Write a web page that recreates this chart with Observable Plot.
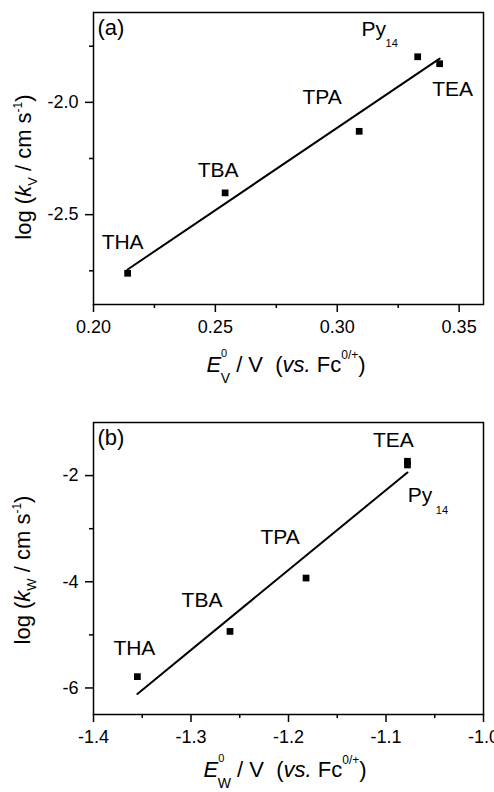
<!DOCTYPE html>
<html>
<head>
<meta charset="utf-8">
<script src="https://cdn.jsdelivr.net/npm/d3@7"></script>
<script src="https://cdn.jsdelivr.net/npm/@observablehq/plot@0.6"></script>
<style>
  html, body { margin: 0; padding: 0; background: #fff; }
  svg { display: block; }
</style>
</head>
<body>
<div id="a"></div>
<div id="b"></div>
<script>
// ---- Data (panel a) ----
const namesA = ["THA", "TBA", "TPA", "Py14", "TEA"];
const xA = [0.214, 0.254, 0.309, 0.333, 0.342];
const yA = [-2.761, -2.403, -2.129, -1.797, -1.828];
const xTicksA = [0.20, 0.25, 0.30, 0.35];
const xMinorA = [0.225, 0.275, 0.325];
const yTicksA = [-2.0, -2.5];
const yMinorA = [-1.75, -2.25, -2.75];

// ---- Data (panel b) ----
const namesB = ["THA", "TBA", "TPA", "TEA", "Py14"];
const xB = [-1.355, -1.260, -1.182, -1.078, -1.078];
const yB = [-5.787, -4.935, -3.93, -1.73, -1.80];
const xTicksB = [-1.4, -1.3, -1.2, -1.1, -1.0];
const xMinorB = [-1.35, -1.25, -1.15, -1.05];
const yTicksB = [-2, -4, -6];
const yMinorB = [-3, -5];

// ---- Label placement (style, kept separate) ----
const labelOffA = {THA: [-5, -31], TBA: [-7, -23], TPA: [-37, -34], Py14: [-44, -27], TEA: [13, 26]};
const subOffA = [-26, -13.5];
const labelOffB = {THA: [-3, -28.5], TBA: [-28, -31], TPA: [-26, -41], TEA: [-14, -21], Py14: [12.5, 30.5]};
const subOffB = [34.5, 45];

const FONT = "'Liberation Sans', Arial, Helvetica, sans-serif";

function rows(names, xs, ys) {
  return names.map((n, i) => ({name: n, x: xs[i], y: ys[i]}));
}

function labelMarks(data, offs, subOff) {
  const marks = [];
  for (const d of data) {
    const o = offs[d.name];
    marks.push(Plot.text([d], {
      x: "x", y: "y",
      text: r => r.name === "Py14" ? "Py" : r.name,
      dx: o[0], dy: o[1], fontSize: 21, fill: "black", textAnchor: "middle", lineAnchor: "middle"
    }));
    if (d.name === "Py14") {
      marks.push(Plot.text([d], {
        x: "x", y: "y", text: () => "14",
        dx: subOff[0], dy: subOff[1], fontSize: 11, fill: "black", textAnchor: "middle", lineAnchor: "middle"
      }));
    }
  }
  return marks;
}

function panel(cfg) {
  const data = rows(cfg.names, cfg.xs, cfg.ys);
  return Plot.plot({
    width: 494,
    height: cfg.height,
    marginLeft: 93, marginRight: 11, marginTop: cfg.marginTop, marginBottom: cfg.marginBottom,
    style: {fontFamily: FONT, fontSize: "18px", color: "black", background: "white", overflow: "visible"},
    x: {domain: cfg.xDomain},
    y: {domain: cfg.yDomain},
    marks: [
      Plot.frame({stroke: "black", strokeWidth: 1.5}),
      Plot.axisX(cfg.xTicks, {tickSize: 8, tickPadding: 8, strokeWidth: 1.5, tickFormat: cfg.xFmt, label: null}),
      Plot.axisX(cfg.xMinor, {tickSize: 4, strokeWidth: 1.5, fill: "none", tickFormat: () => "", label: null}),
      Plot.axisY(cfg.yTicks, {tickSize: 8, tickPadding: 7, strokeWidth: 1.5, tickFormat: cfg.yFmt, label: null}),
      Plot.axisY(cfg.yMinor, {tickSize: 4, strokeWidth: 1.5, fill: "none", tickFormat: () => "", label: null}),
      Plot.linearRegressionY(data, {x: "x", y: "y", stroke: "black", strokeWidth: 2, ci: 0}),
      Plot.dot(data, {x: "x", y: "y", symbol: "square", r: 3.8, fill: "black", stroke: "none"}),
      Plot.text([cfg.tag], {frameAnchor: "top-left", text: d => d, dx: 4, dy: 7, fontSize: 22, fill: "black", textAnchor: "start", lineAnchor: "top"}),
      ...labelMarks(data, cfg.offs, cfg.subOff)
    ]
  });
}

function addXTitle(svg, sub, cx, by) {
  const t = d3.select(svg).append("text")
    .attr("x", cx).attr("y", by).attr("text-anchor", "middle")
    .attr("font-size", 22).attr("fill", "black").style("white-space", "pre");
  t.append("tspan").attr("font-style", "italic").text("E");
  t.append("tspan").attr("font-size", 11).attr("dy", -15).text("0");
  t.append("tspan").attr("font-size", 14).attr("dx", -6.5).attr("dy", 26).text(sub);
  t.append("tspan").attr("dy", -11).text(" / V  (");
  t.append("tspan").attr("font-style", "italic").text("vs.");
  t.append("tspan").text(" Fc");
  t.append("tspan").attr("font-size", 12).attr("dy", -13).text("0/+");
  t.append("tspan").attr("dy", 13).text(")");
}

function addYTitle(svg, sub, bx, cy) {
  const t = d3.select(svg).append("text")
    .attr("transform", `translate(${bx},${cy}) rotate(-90)`)
    .attr("text-anchor", "middle")
    .attr("font-size", 22).attr("fill", "black").style("white-space", "pre");
  t.append("tspan").text("log (");
  t.append("tspan").attr("font-style", "italic").text("k");
  t.append("tspan").attr("font-size", 13).attr("dy", 6).text(sub);
  t.append("tspan").attr("dy", -6).text(" / cm s");
  t.append("tspan").attr("font-size", 12).attr("dy", -9).text("-1");
  t.append("tspan").attr("dy", 9).text(")");
}

const svgA = panel({
  names: namesA, xs: xA, ys: yA, height: 400, marginTop: 12, marginBottom: 96,
  xDomain: [0.2, 0.36], yDomain: [-2.9, -1.6],
  xTicks: xTicksA, xMinor: xMinorA, yTicks: yTicksA, yMinor: yMinorA,
  xFmt: d => d.toFixed(2), yFmt: d => d.toFixed(1),
  tag: "(a)", offs: labelOffA, subOff: subOffA
});
addXTitle(svgA, "V", 286, 372);
addYTitle(svgA, "V", 31, 167);
document.getElementById("a").appendChild(svgA);

const svgB = panel({
  names: namesB, xs: xB, ys: yB, height: 392, marginTop: 22, marginBottom: 78,
  xDomain: [-1.4, -1.0], yDomain: [-6.5, -1],
  xTicks: xTicksB, xMinor: xMinorB, yTicks: yTicksB, yMinor: yMinorB,
  xFmt: d => d.toFixed(1), yFmt: d => d.toFixed(0),
  tag: "(b)", offs: labelOffB, subOff: subOffB
});
addXTitle(svgB, "W", 285, 377);
addYTitle(svgB, "W", 30, 170);
document.getElementById("b").appendChild(svgB);
</script>
</body>
</html>
